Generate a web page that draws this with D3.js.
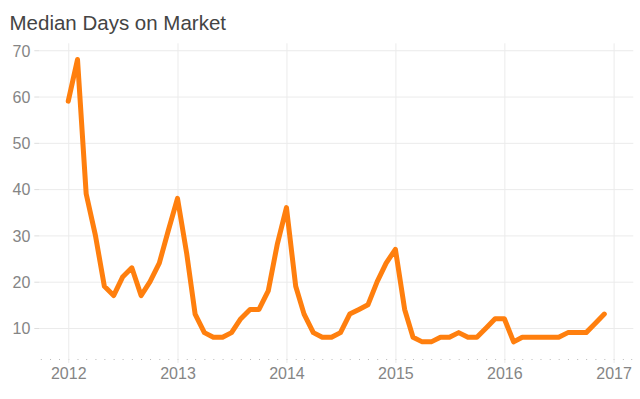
<!DOCTYPE html>
<html>
<head>
<meta charset="utf-8">
<script src="https://cdn.jsdelivr.net/npm/d3@7"></script>
<style>
  body { margin: 0; background: #fff; }
  svg { display: block; font-family: "Liberation Sans", Arial, sans-serif; }
  .grid line { stroke: #ebebeb; stroke-width: 1; }
  .tick text { fill: #858585; font-size: 16px; }
</style>
</head>
<body>
<main></main>
<script>
const width = 640;
const height = 399;
const plotLeft = 39.3, plotRight = 633.3, plotTop = 43.3, plotBottom = 359;

// monthly median days on market, Jan 2012 .. Dec 2016
const startMonth = '2012-01';
const days = [
  59, 68, 39, 30, 19, 17, 21, 23, 17, 20, 24, 31,
  38, 26, 13, 9, 8, 8, 9, 12, 14, 14, 18, 28,
  36, 19, 13, 9, 8, 8, 9, 13, 14, 15, 20, 24,
  27, 14, 8, 7, 7, 8, 8, 9, 8, 8, 10, 12,
  12, 7, 8, 8, 8, 8, 8, 9, 9, 9, 11, 13
];
const yTicks = [10, 20, 30, 40, 50, 60, 70];
const xTicks = ['2012', '2013', '2014', '2015', '2016', '2017'];

const parseMonth = d3.timeParse('%Y-%m');
const first = parseMonth(startMonth);
const value = days.map((v, i) => ({ date: d3.timeMonth.offset(first, i), v }));

const svg = d3.select('main').append('svg')
    .attr('width', width)
    .attr('height', height);

svg.append('text')
   .attr('x', 9.5)
   .attr('y', 30)
   .attr('fill', '#444')
   .style('font-size', '20.5px')
   .text('Median Days on Market');

const xScale = d3.scaleTime()
    .domain([d3.timeDay.offset(value[0].date, -97), d3.timeDay.offset(value[value.length - 1].date, 97)])
    .range([plotLeft, plotRight]);
const yScale = d3.scaleLinear().domain([3.3, 71.5]).range([plotBottom, plotTop]);

// horizontal grid + y labels
svg.append('g')
   .attr('class', 'grid')
   .attr('transform', 'translate(' + plotLeft + ',0)')
   .call(d3.axisLeft(yScale).tickValues(yTicks).tickSize(-(plotRight - plotLeft)).tickPadding(9))
   .call(g => g.select('.domain').remove());
svg.selectAll('.grid .tick text').attr('dy', '0.36em');

// small y tick marks
svg.append('g')
   .attr('transform', 'translate(' + plotLeft + ',0)')
   .call(d3.axisLeft(yScale).tickValues(yTicks).tickSize(5).tickFormat(''))
   .call(g => g.select('.domain').remove())
   .selectAll('line').attr('stroke', '#ddd');

// monthly dots along the bottom
svg.append('g')
   .attr('transform', 'translate(0,' + plotBottom + ')')
   .call(d3.axisBottom(xScale).ticks(d3.timeMonth.every(1)).tickSize(1).tickFormat(''))
   .call(g => g.select('.domain').remove())
   .selectAll('line').attr('stroke', '#bbb');

// vertical grid + year labels
const years = xTicks.map(d => d3.timeParse('%Y')(d));
svg.append('g')
   .attr('class', 'grid')
   .attr('transform', 'translate(0,' + (plotBottom + 4) + ')')
   .call(d3.axisBottom(xScale).tickValues(years).tickSize(-(plotBottom + 4 - plotTop)).tickPadding(5).tickFormat(d3.timeFormat('%Y')))
   .call(g => g.select('.domain').remove());

const line = d3.line()
    .x(d => xScale(d.date))
    .y(d => yScale(d.v));

svg.append('path')
   .datum(value)
   .attr('d', line)
   .attr('fill', 'none')
   .attr('stroke', '#ff7f0e')
   .attr('stroke-width', 5)
   .attr('stroke-linejoin', 'round')
   .attr('stroke-linecap', 'round');
</script>
</body>
</html>
